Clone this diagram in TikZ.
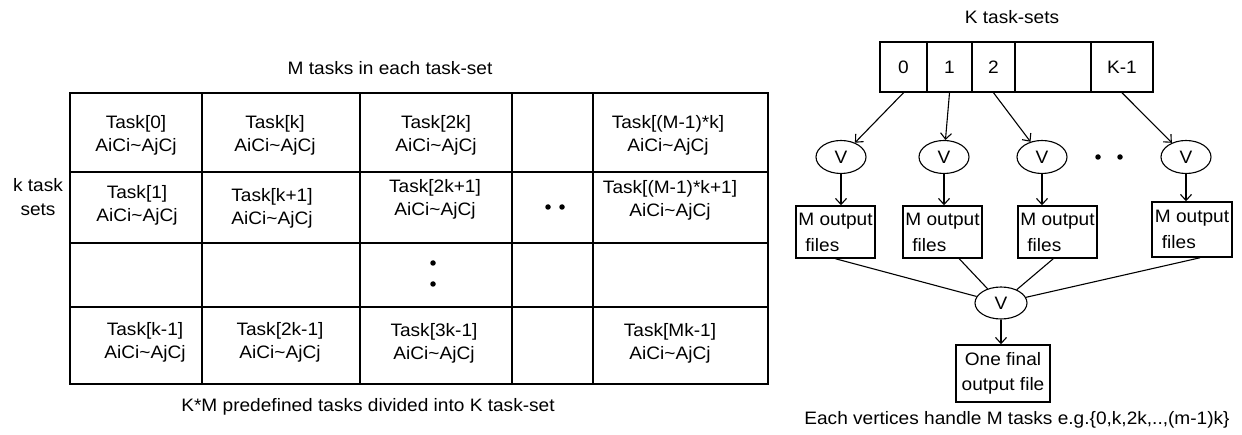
\documentclass[tikz,border=0pt]{standalone}
\usepackage{fontspec}
\setmainfont[FakeStretch=1.06]{Liberation Sans}
\usetikzlibrary{arrows.meta,shapes.geometric}
\begin{document}
\begin{tikzpicture}[x=1pt,y=-1pt,
  every node/.style={font=\fontsize{18}{23}\selectfont, inner sep=0pt},
  gridline/.style={line width=1.6pt},
  cell/.style={align=center},
  dotn/.style={circle, fill=black, minimum size=5.5pt, inner sep=0pt},
  slot/.style={draw, line width=1.5pt, minimum height=50pt, inner sep=0pt},
  vert/.style={draw, ellipse, line width=1.1pt, minimum width=50pt, minimum height=33pt, inner sep=0pt},
  outbox/.style={draw, line width=1.5pt, minimum width=79pt, minimum height=52pt, align=left},
  arr/.style={-{Straight Barb[length=6pt,width=11pt]}, line width=1.1pt},
  link/.style={line width=1.1pt}]
\useasboundingbox (0,0) rectangle (1242,435);

% ---------- left: table ----------
\node (ttitle) at (390,68) {M tasks in each task-set};
\draw[gridline] (70,93) rectangle (768,384);
\foreach \x in {202,360,512,593} \draw[gridline] (\x,93) -- (\x,384);
\foreach \y in {172,243,307} \draw[gridline] (70,\y) -- (768,\y);

\node[cell] (ksets) at (38,197) {k task\\[1pt]sets};

\node[cell] (c11) at (136,135.5) {Task[0]\\AiCi\textasciitilde AjCj};
\node[cell] (c12) at (275,135.5) {Task[k]\\AiCi\textasciitilde AjCj};
\node[cell] (c13) at (436,135) {Task[2k]\\AiCi\textasciitilde AjCj};
\node[cell] (c15) at (668,135) {Task[(M-1)*k]\\AiCi\textasciitilde AjCj};

\node[cell] (c21) at (137,205) {Task[1]\\AiCi\textasciitilde AjCj};
\node[cell] (c22) at (272,208) {Task[k+1]\\AiCi\textasciitilde AjCj};
\node[cell] (c23) at (435,199) {Task[2k+1]\\AiCi\textasciitilde AjCj};
\node[dotn] (hd1) at (548,207) {};
\node[dotn] (hd2) at (562,207) {};
\node[cell] (c25) at (670,200) {Task[(M-1)*k+1]\\AiCi\textasciitilde AjCj};

\node[dotn] (vd1) at (433,263) {};
\node[dotn] (vd2) at (433,284) {};

\node[cell] (c41) at (145,342) {Task[k-1]\\AiCi\textasciitilde AjCj};
\node[cell] (c42) at (280,342.5) {Task[2k-1]\\AiCi\textasciitilde AjCj};
\node[cell] (c43) at (434,343) {Task[3k-1]\\AiCi\textasciitilde AjCj};
\node[cell] (c45) at (670,343.5) {Task[Mk-1]\\AiCi\textasciitilde AjCj};

\node (tcap) at (368,407) {K*M predefined tasks divided into K task-set};

% ---------- right: flow ----------
\node (rtitle) at (1012,17) {K task-sets};
\node[slot, minimum width=47pt] (s0) at (903.5,67) {0};
\node[slot, minimum width=45pt] (s1) at (949.5,67) {1};
\node[slot, minimum width=43pt] (s2) at (993.5,67) {2};
\node[slot, minimum width=76pt] (s3) at (1053,67) {};
\node[slot, minimum width=62pt] (s4) at (1122,67) {K-1};

\node[vert] (v1) at (841,157) {V};
\node[vert] (v2) at (944,157) {V};
\node[vert] (v3) at (1042,157) {V};
\node[vert] (v4) at (1186,157) {V};
\node[dotn] (rd1) at (1098,157) {};
\node[dotn] (rd2) at (1120,157) {};

\draw[arr] (s0.south) -- (v1);
\draw[arr] (s1.south) -- (v2);
\draw[arr] (s2.south) -- (v3);
\draw[arr] (s4.south) -- (v4);

\node[outbox] (b1) at (835.5,232) {M output\\[3pt]\hspace*{7pt}files};
\node[outbox] (b2) at (942.5,232) {M output\\[3pt]\hspace*{7pt}files};
\node[outbox] (b3) at (1057.5,232) {M output\\[3pt]\hspace*{7pt}files};
\node[outbox, minimum width=80pt, minimum height=55pt] (b4) at (1192,229.5) {M output\\[3pt]\hspace*{7pt}files};

\draw[arr] (v1.south) -- (v1.south |- b1.north);
\draw[arr] (v2.south) -- (v2.south |- b2.north);
\draw[arr] (v3.south) -- (v3.south |- b3.north);
\draw[arr] (v4.south) -- (v4.south |- b4.north);

\node[vert, minimum width=52pt, minimum height=32pt] (vb) at (1001,303) {V};
\draw[link] (b1.south) -- (vb);
\draw[link] (b2.-58) -- (vb);
\draw[link] (b3.-99) -- (vb);
\draw[link] (b4.-74) -- (vb);

\node[outbox, align=center, minimum width=94pt, minimum height=57pt] (fin) at (1003,373.5) {One final\\[2pt]output file};
\draw[arr] (vb.south) -- (vb.south |- fin.north);

\node (rcap) at (1017,420) {Each vertices handle M tasks e.g.\{0,k,2k,..,(m-1)k\}};
\end{tikzpicture}
\end{document}
